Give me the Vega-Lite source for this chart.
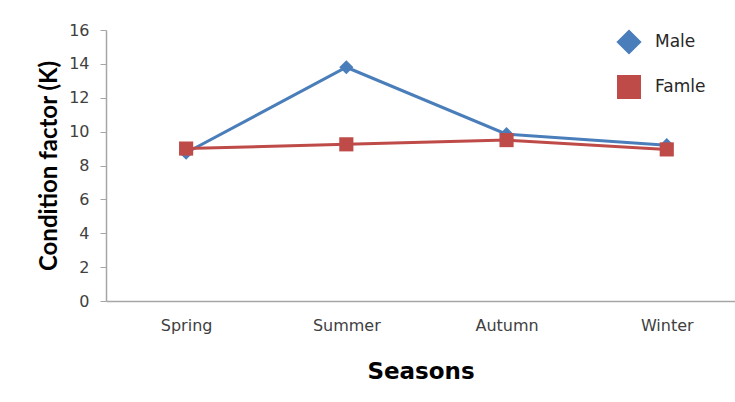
{
  "$schema": "https://vega.github.io/schema/vega-lite/v6.json",
  "width": 629,
  "height": 271,
  "autosize": "none",
  "padding": {"left": 106, "top": 30, "right": 0, "bottom": 101},
  "background": "white",
  "config": {
    "view": {"stroke": null},
    "font": "DejaVu Sans",
    "axis": {"grid": false, "domainColor": "#A6A6A6", "tickColor": "#A6A6A6", "domainWidth": 1.5, "labelColor": "#404040", "labelFont": "DejaVu Sans", "titleColor": "#000000", "titleFontWeight": "bold"}
  },
  "data": {
    "values": [
      {"season": "Spring", "sex": "Male", "k": 8.75},
      {"season": "Summer", "sex": "Male", "k": 13.8},
      {"season": "Autumn", "sex": "Male", "k": 9.85},
      {"season": "Winter", "sex": "Male", "k": 9.2},
      {"season": "Spring", "sex": "Famle", "k": 9.0},
      {"season": "Summer", "sex": "Famle", "k": 9.25},
      {"season": "Autumn", "sex": "Famle", "k": 9.5},
      {"season": "Winter", "sex": "Famle", "k": 8.95}
    ]
  },
  "encoding": {
    "x": {
      "field": "season",
      "type": "ordinal",
      "sort": ["Spring", "Summer", "Autumn", "Winter"],
      "scale": {"type": "point", "padding": 0.463, "align": 0.54},
      "axis": {"title": "Seasons", "labelAngle": 0, "ticks": false, "labelFontSize": 16, "labelPadding": 16, "titleFont": "DejaVu Sans", "titleFontSize": 23, "titlePadding": 27}
    },
    "y": {
      "field": "k",
      "type": "quantitative",
      "scale": {"domain": [0, 16], "nice": false, "zero": true},
      "axis": {"title": "Condition factor (K)", "values": [0, 2, 4, 6, 8, 10, 12, 14, 16], "tickSize": 6, "labelFontSize": 16, "labelPadding": 11, "titleFont": "Lato", "titleFontSize": 24, "titlePadding": 7}
    }
  },
  "layer": [
    {
      "mark": {"type": "line", "strokeWidth": 3},
      "encoding": {
        "stroke": {
          "field": "sex",
          "type": "nominal",
          "sort": ["Male", "Famle"],
          "scale": {"domain": ["Male", "Famle"], "range": ["#4A7EBB", "#BE4B48"]},
          "legend": {
            "title": null,
            "orient": "none",
            "legendX": 511,
            "legendY": 0,
            "padding": 0,
            "symbolType": "M-2,0H2",
            "symbolSize": 441,
            "symbolStrokeWidth": 3,
            "labelFont": "DejaVu Sans",
            "labelFontSize": 17,
            "labelColor": "#262626",
            "labelOffset": 14,
            "rowPadding": 11
          }
        }
      }
    },
    {
      "mark": {"type": "point", "filled": true, "opacity": 1, "size": 200},
      "encoding": {
        "color": {
          "field": "sex",
          "type": "nominal",
          "sort": ["Male", "Famle"],
          "scale": {"domain": ["Male", "Famle"], "range": ["#4A7EBB", "#BE4B48"]},
          "legend": null
        },
        "shape": {
          "field": "sex",
          "type": "nominal",
          "scale": {"domain": ["Male", "Famle"], "range": ["diamond", "square"]},
          "legend": null
        }
      }
    }
  ]
}
